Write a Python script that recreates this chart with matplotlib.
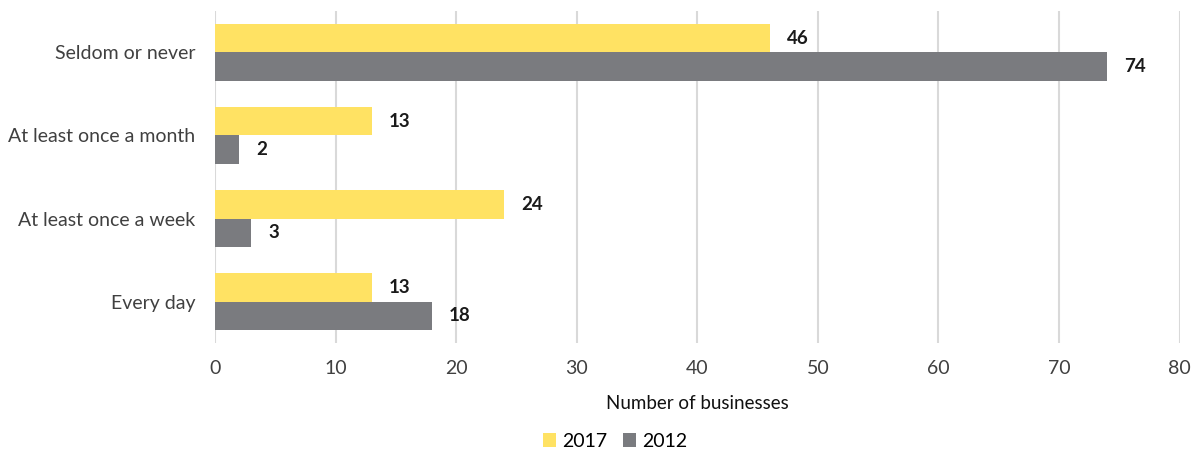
import matplotlib.pyplot as plt
import numpy as np

plt.rcParams['font.family'] = ['Lato', 'DejaVu Sans']

categories = ['Every day', 'At least once a week', 'At least once a month', 'Seldom or never']
values_2017 = [13, 24, 13, 46]
values_2012 = [18, 3, 2, 74]
ticks = [0, 10, 20, 30, 40, 50, 60, 70, 80]

yellow = '#FFE263'
grey = '#7A7B7F'

fig = plt.figure(figsize=(11.94, 4.55), dpi=100)
ax = fig.add_axes([0.180, 0.246, 0.808, 0.730])

y = np.arange(len(categories))
h = 0.34
b17 = ax.barh(y + h / 2, values_2017, height=h, color=yellow, label='2017', zorder=3)
b12 = ax.barh(y - h / 2, values_2012, height=h, color=grey, label='2012', zorder=3)

# value labels just past the end of each bar
for bars, vals in ((b17, values_2017), (b12, values_2012)):
    for bar, v in zip(bars, vals):
        ax.text(v + 1.4, bar.get_y() + bar.get_height() / 2, str(v),
                va='center', ha='left', fontsize=13.5, fontweight='bold', color='#1a1a1a')

ax.set_xlim(0, 80)
ax.set_ylim(-0.5, 3.5)
ax.set_xticks(ticks)
ax.set_yticks(y)
ax.set_yticklabels(categories)
ax.tick_params(axis='both', length=0, labelsize=14, colors='#404040')
ax.tick_params(axis='x', pad=12)
ax.tick_params(axis='y', pad=14)

ax.grid(axis='x', color='#D9D9D9', linewidth=1.5, zorder=0)
for s in ax.spines.values():
    s.set_visible(False)

ax.set_xlabel('Number of businesses', fontsize=13.5, labelpad=13, color='#111111')

fig.legend(handles=[b17, b12], loc='center', bbox_to_anchor=(0.515, 0.03), ncol=2,
           frameon=False, fontsize=14, handlelength=0.7, handleheight=0.7,
           handletextpad=0.3, columnspacing=0.8)

fig.savefig('out.png', dpi=100)
